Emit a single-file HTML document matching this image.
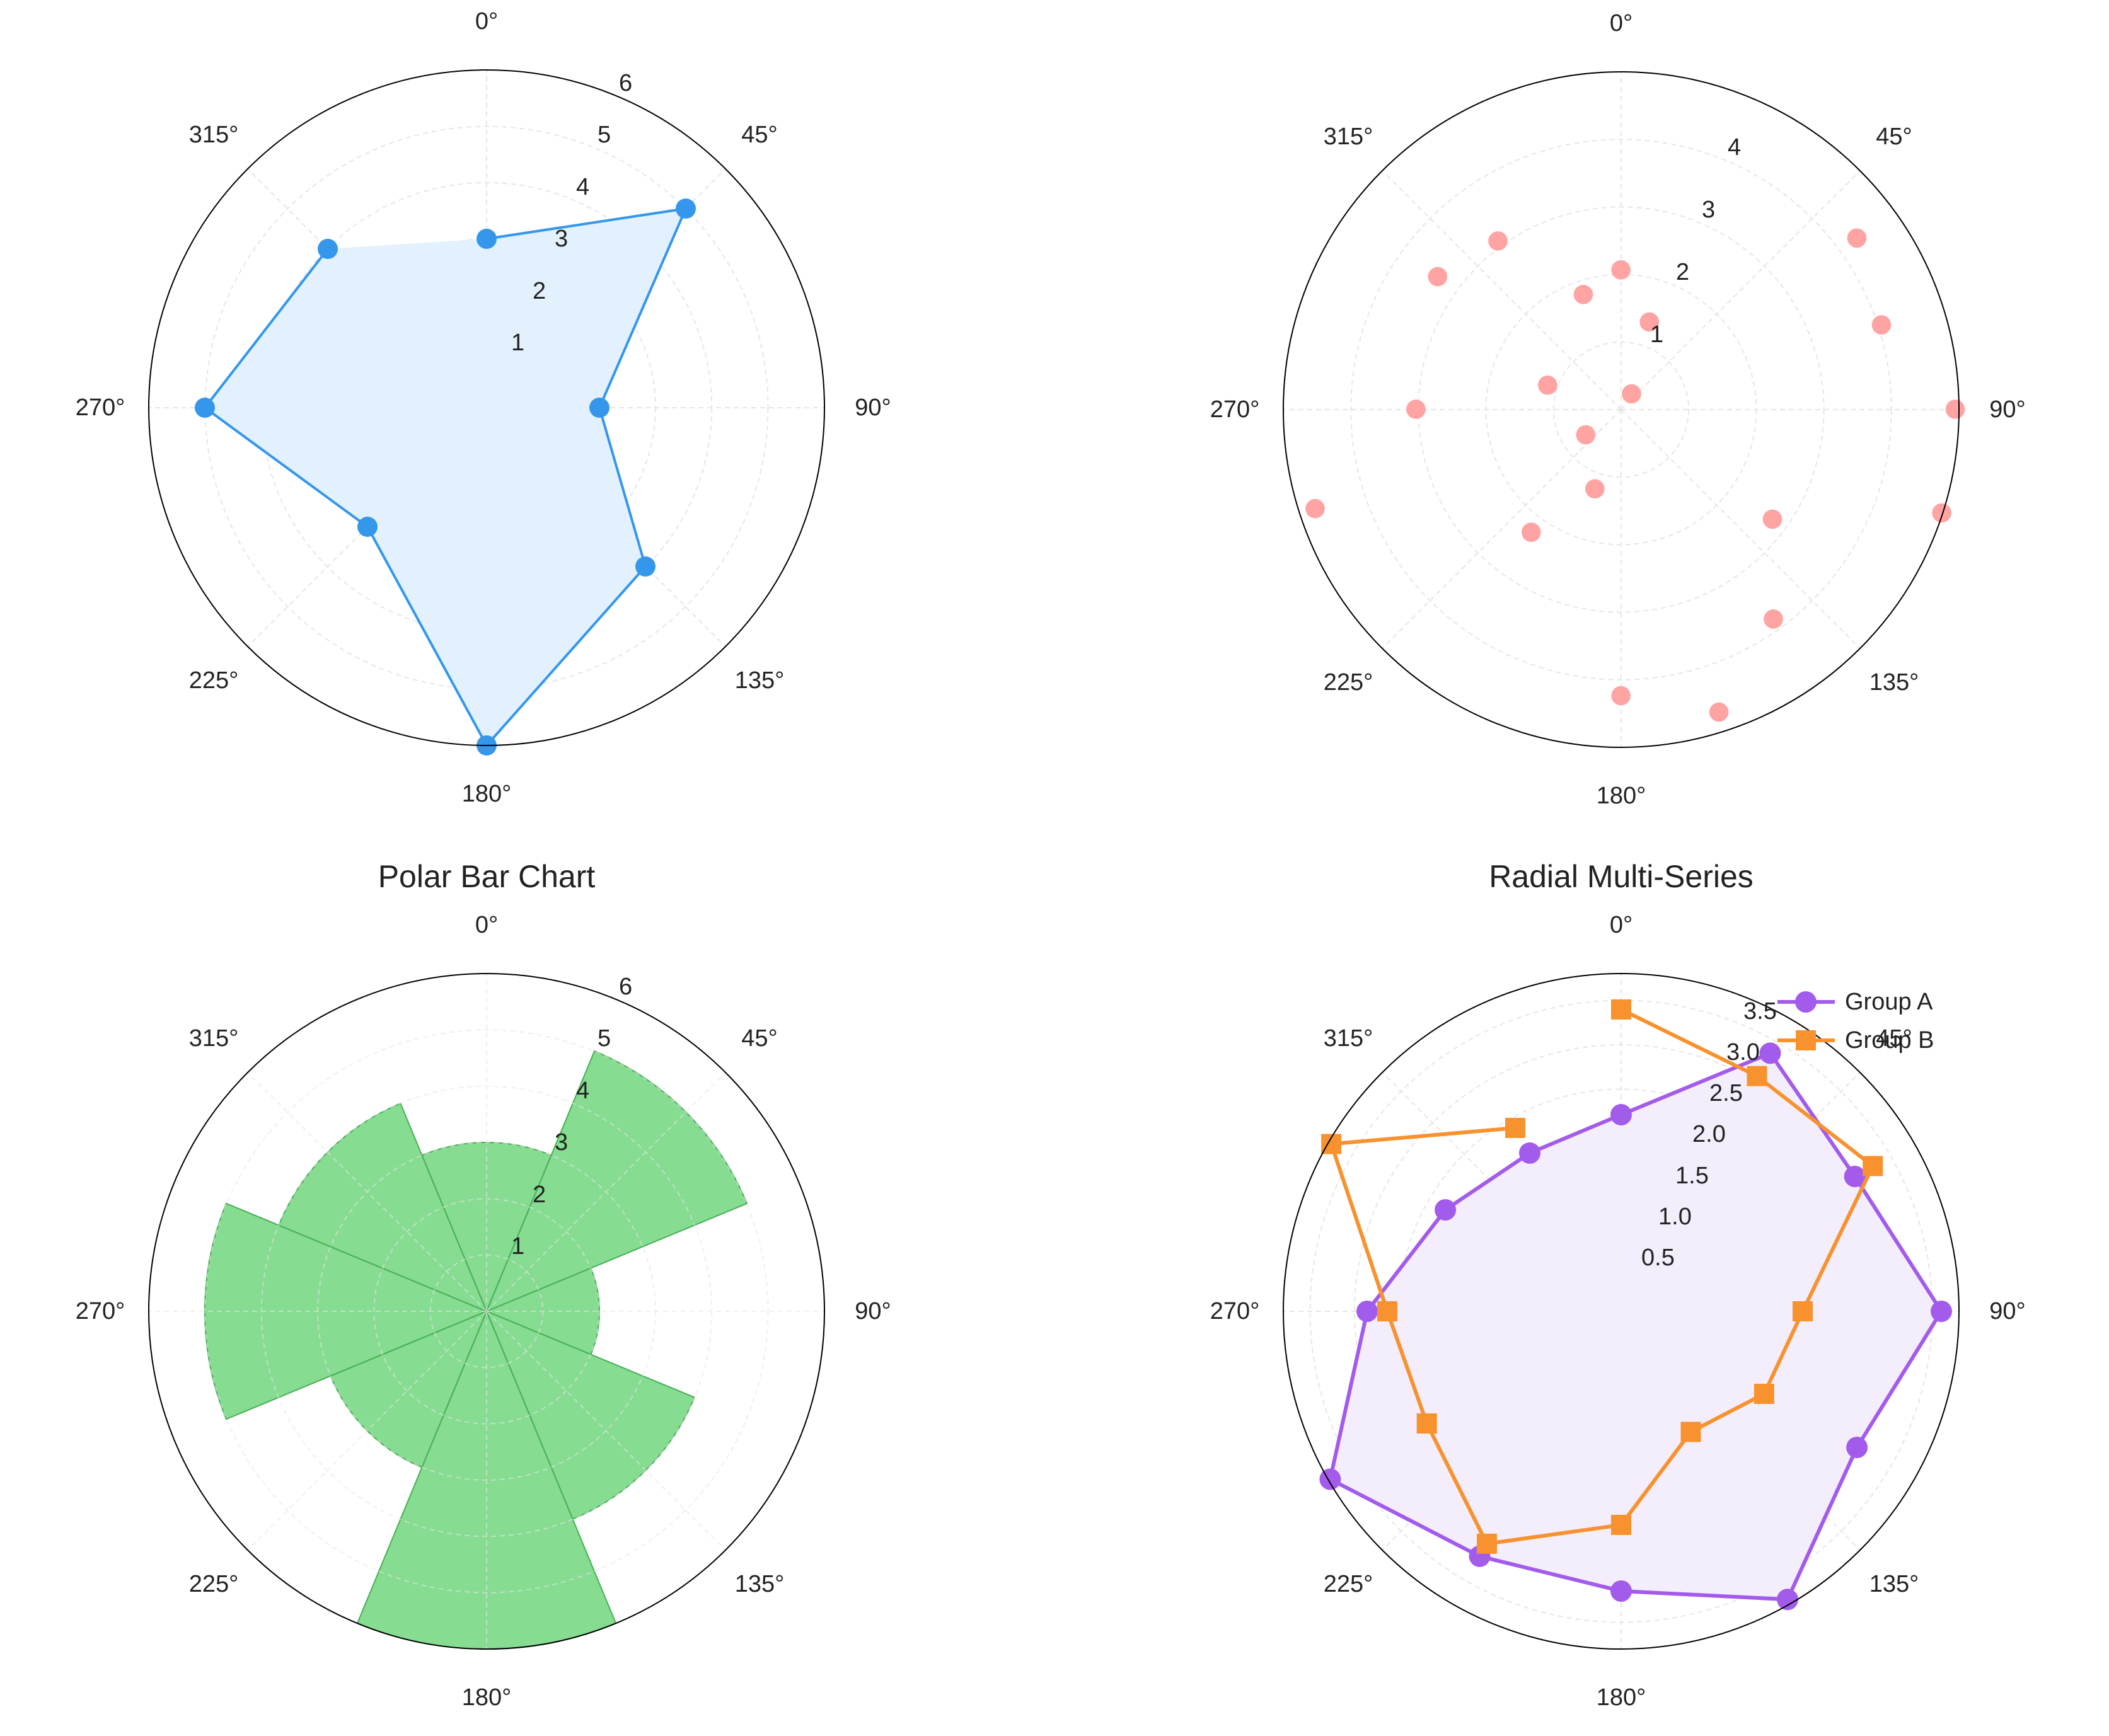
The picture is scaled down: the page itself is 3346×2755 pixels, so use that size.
<!DOCTYPE html>
<html><head><meta charset="utf-8"><style>
html,body{margin:0;padding:0;background:#fff;}
svg{display:block;}
text{font-family:"Liberation Sans",sans-serif;fill:#222;}
.al{font-size:38px;text-anchor:middle;dominant-baseline:central;}
.rl{font-size:38px;text-anchor:start;}
.g{fill:none;stroke:#e6e6e6;stroke-width:2;stroke-dasharray:8,6;}
.o{fill:none;stroke:#000;stroke-width:2;}
</style></head><body>
<svg width="3346" height="2755" viewBox="0 0 3346 2755" xmlns="http://www.w3.org/2000/svg">
<defs>
<g id="grid45">
<line class="g" x1="0" y1="0" x2="0" y2="-536"/><line class="g" x1="0" y1="0" x2="379" y2="-379"/>
<line class="g" x1="0" y1="0" x2="536" y2="0"/><line class="g" x1="0" y1="0" x2="379" y2="379"/>
<line class="g" x1="0" y1="0" x2="0" y2="536"/><line class="g" x1="0" y1="0" x2="-379" y2="379"/>
<line class="g" x1="0" y1="0" x2="-536" y2="0"/><line class="g" x1="0" y1="0" x2="-379" y2="-379"/>
</g>
</defs>

<!-- TL radar -->
<g transform="translate(772,647)">
<use href="#grid45"/>
<circle class="g" r="89.3"/><circle class="g" r="178.6"/><circle class="g" r="267.9"/><circle class="g" r="357.2"/><circle class="g" r="446.5"/>
<polygon points="0,-268 316,-316 179,0 252,252 0,536 -189,189 -447,0 -252,-252" fill="#e2f1fd" stroke="none"/>
<polyline points="0,-268 316,-316 179,0 252,252 0,536 -189,189 -447,0 -252,-252" fill="none" stroke="#3497ec" stroke-width="4"/>
<g fill="#3497ec">
<circle cx="0" cy="-268" r="16"/><circle cx="316" cy="-316" r="16"/><circle cx="179" cy="0" r="16"/><circle cx="252" cy="252" r="16"/>
<circle cx="0" cy="536" r="16"/><circle cx="-189" cy="189" r="16"/><circle cx="-447" cy="0" r="16"/><circle cx="-252" cy="-252" r="16"/>
</g>
<circle class="o" r="536"/>
<text class="rl" x="39" y="-91">1</text><text class="rl" x="73" y="-173">2</text><text class="rl" x="108" y="-256">3</text>
<text class="rl" x="142" y="-338">4</text><text class="rl" x="176" y="-421">5</text><text class="rl" x="210" y="-503">6</text>
<text class="al" x="0" y="-613">0°</text><text class="al" x="433" y="-433">45°</text><text class="al" x="613" y="0">90°</text>
<text class="al" x="433" y="433">135°</text><text class="al" x="0" y="613">180°</text><text class="al" x="-433" y="433">225°</text>
<text class="al" x="-613" y="0">270°</text><text class="al" x="-433" y="-433">315°</text>
</g>

<!-- TR scatter -->
<g transform="translate(2572,650)">
<use href="#grid45"/>
<circle class="g" r="107.2"/><circle class="g" r="214.4"/><circle class="g" r="321.6"/><circle class="g" r="428.8"/>
</g>
<g transform="translate(2000,100) scale(0.76531)" fill="#ffa3a3">
<circle cx="747" cy="429" r="20"/><circle cx="806" cy="537" r="20"/><circle cx="769" cy="686" r="20"/><circle cx="669" cy="480" r="20"/>
<circle cx="492" cy="369" r="20"/><circle cx="367" cy="443" r="20"/><circle cx="1236" cy="363" r="20"/><circle cx="1287" cy="543" r="20"/>
<circle cx="1440" cy="718" r="20"/><circle cx="1412" cy="933" r="20"/><circle cx="1061" cy="946" r="20"/><circle cx="1063" cy="1153" r="20"/>
<circle cx="950" cy="1346" r="20"/><circle cx="747" cy="1312" r="20"/><circle cx="561" cy="973" r="20"/><circle cx="693" cy="883" r="20"/>
<circle cx="674" cy="771" r="20"/><circle cx="595" cy="668" r="20"/><circle cx="322" cy="718" r="20"/><circle cx="113" cy="924" r="20"/>
</g>
<g transform="translate(2572,650)">
<circle class="o" r="536"/>
<text class="rl" x="46" y="-107">1</text><text class="rl" x="87" y="-206">2</text><text class="rl" x="128" y="-305">3</text><text class="rl" x="169" y="-404">4</text>
<text class="al" x="0" y="-613">0°</text><text class="al" x="433" y="-433">45°</text><text class="al" x="613" y="0">90°</text>
<text class="al" x="433" y="433">135°</text><text class="al" x="0" y="613">180°</text><text class="al" x="-433" y="433">225°</text>
<text class="al" x="-613" y="0">270°</text><text class="al" x="-433" y="-433">315°</text>
</g>

<!-- BL polar bar -->
<text x="772" y="1391" style="font-size:50px;text-anchor:middle;dominant-baseline:central;">Polar Bar Chart</text>
<g transform="translate(772,2081)">
<g fill="#86dc91" stroke="#46b055" stroke-width="2">
<path d="M0,0 L-102.6,-247.6 A268,268 0 0 1 102.6,-247.6 Z"/>
<path d="M0,0 L171.1,-413 A447,447 0 0 1 413,-171.1 Z"/>
<path d="M0,0 L165.4,-68.5 A179,179 0 0 1 165.4,68.5 Z"/>
<path d="M0,0 L329.8,136.6 A357,357 0 0 1 136.6,329.8 Z"/>
<path d="M0,0 L205.1,495.2 A536,536 0 0 1 -205.1,495.2 Z"/>
<path d="M0,0 L-102.6,247.6 A268,268 0 0 1 -247.6,102.6 Z"/>
<path d="M0,0 L-413,171.1 A447,447 0 0 1 -413,-171.1 Z"/>
<path d="M0,0 L-329.8,-136.6 A357,357 0 0 1 -136.6,-329.8 Z"/>
</g>
<g opacity="0.6"><use href="#grid45"/>
<circle class="g" r="89.3"/><circle class="g" r="178.6"/><circle class="g" r="267.9"/><circle class="g" r="357.2"/><circle class="g" r="446.5"/></g>
<circle class="o" r="536"/>
<text class="rl" x="39" y="-91">1</text><text class="rl" x="73" y="-173">2</text><text class="rl" x="108" y="-256">3</text>
<text class="rl" x="142" y="-338">4</text><text class="rl" x="176" y="-421">5</text><text class="rl" x="210" y="-503">6</text>
<text class="al" x="0" y="-613">0°</text><text class="al" x="433" y="-433">45°</text><text class="al" x="613" y="0">90°</text>
<text class="al" x="433" y="433">135°</text><text class="al" x="0" y="613">180°</text><text class="al" x="-433" y="433">225°</text>
<text class="al" x="-613" y="0">270°</text><text class="al" x="-433" y="-433">315°</text>
</g>

<!-- BR radial multi -->
<text x="2572" y="1391" style="font-size:50px;text-anchor:middle;dominant-baseline:central;">Radial Multi-Series</text>
<g transform="translate(2572,2081)">
<use href="#grid45"/>
<circle class="g" r="70.5"/><circle class="g" r="141"/><circle class="g" r="211.5"/><circle class="g" r="282"/><circle class="g" r="352.5"/><circle class="g" r="423"/><circle class="g" r="493.5"/>
<polygon points="0,-312 236.5,-409.6 370.7,-214 508,0 374.1,216 264,457.3 0,444 -224.5,388.8 -461.6,266.5 -403,0 -278.9,-161 -145,-251.1" fill="#f4edfc"/>
<polygon points="0,-312 236.5,-409.6 370.7,-214 508,0 374.1,216 264,457.3 0,444 -224.5,388.8 -461.6,266.5 -403,0 -278.9,-161 -145,-251.1" fill="none" stroke="#a35beb" stroke-width="6" stroke-linejoin="round"/>
<g fill="#a35beb">
<circle cx="0" cy="-312" r="17"/><circle cx="236.5" cy="-409.6" r="17"/><circle cx="370.7" cy="-214" r="17"/><circle cx="508" cy="0" r="17"/>
<circle cx="374.1" cy="216" r="17"/><circle cx="264" cy="457.3" r="17"/><circle cx="0" cy="444" r="17"/><circle cx="-224.5" cy="388.8" r="17"/>
<circle cx="-461.6" cy="266.5" r="17"/><circle cx="-403" cy="0" r="17"/><circle cx="-278.9" cy="-161" r="17"/><circle cx="-145" cy="-251.1" r="17"/>
</g>
<polyline points="0,-479 215.5,-373.3 399.2,-230.5 288,0 226.9,131 110.5,191.4 0,339 -213,368.9 -308.3,178 -371,0 -459.9,-265.5 -168,-291" fill="none" stroke="#f7922e" stroke-width="6" stroke-linejoin="round"/>
<g fill="#f7922e">
<rect x="-16" y="-495" width="32" height="32"/><rect x="199.5" y="-389.3" width="32" height="32"/><rect x="383.2" y="-246.5" width="32" height="32"/>
<rect x="272" y="-16" width="32" height="32"/><rect x="210.9" y="115" width="32" height="32"/><rect x="94.5" y="175.4" width="32" height="32"/>
<rect x="-16" y="323" width="32" height="32"/><rect x="-229" y="352.9" width="32" height="32"/><rect x="-324.3" y="162" width="32" height="32"/>
<rect x="-387" y="-16" width="32" height="32"/><rect x="-475.9" y="-281.5" width="32" height="32"/><rect x="-184" y="-307" width="32" height="32"/>
</g>
<circle class="o" r="536"/>
<text class="rl" x="32" y="-73">0.5</text><text class="rl" x="59" y="-138">1.0</text><text class="rl" x="86" y="-203">1.5</text>
<text class="rl" x="113" y="-269">2.0</text><text class="rl" x="140" y="-334">2.5</text><text class="rl" x="167" y="-399">3.0</text><text class="rl" x="194" y="-464">3.5</text>
<text class="al" x="0" y="-613">0°</text><text class="al" x="433" y="-433">45°</text><text class="al" x="613" y="0">90°</text>
<text class="al" x="433" y="433">135°</text><text class="al" x="0" y="613">180°</text><text class="al" x="-433" y="433">225°</text>
<text class="al" x="-613" y="0">270°</text><text class="al" x="-433" y="-433">315°</text>
</g>
<!-- legend -->
<line x1="2820" y1="1590" x2="2911" y2="1590" stroke="#a35beb" stroke-width="6"/>
<circle cx="2865" cy="1590" r="17" fill="#a35beb"/>
<text x="2927" y="1590" style="font-size:38px;dominant-baseline:central;">Group A</text>
<line x1="2820" y1="1651" x2="2911" y2="1651" stroke="#f7922e" stroke-width="6"/>
<rect x="2849" y="1635" width="32" height="32" fill="#f7922e"/>
<text x="2927" y="1651" style="font-size:38px;dominant-baseline:central;">Group B</text>
</svg>
</body></html>
